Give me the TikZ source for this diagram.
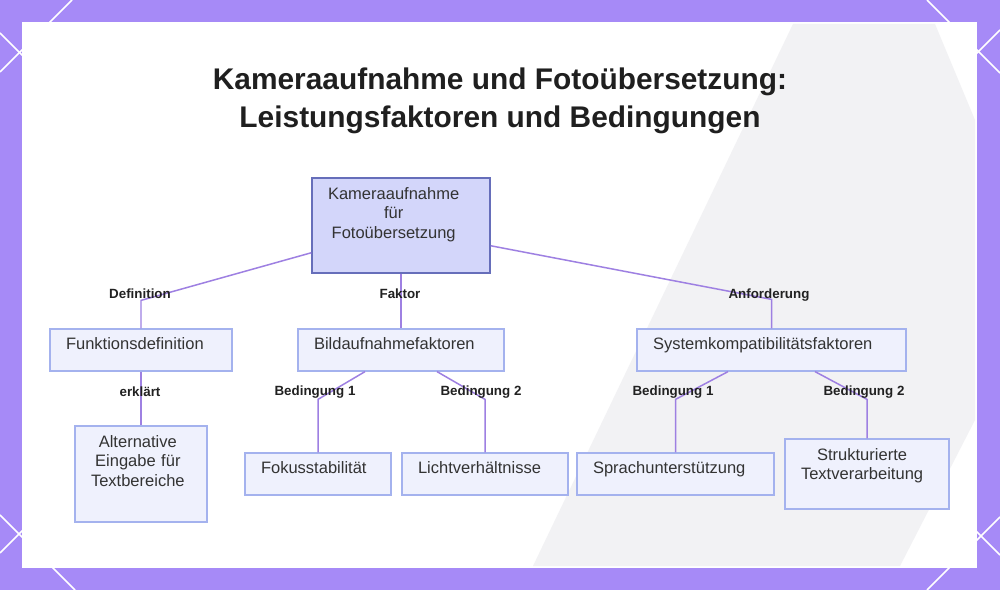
\documentclass[tikz,border=0pt]{standalone}
\usepackage{fontspec}
\setmainfont{Liberation Sans}
\usepackage{tikz}
\usetikzlibrary{calc, positioning}

\definecolor{bgpurple}{RGB}{166,138,247}
\definecolor{linkpurple}{RGB}{158,128,226}
\definecolor{rootfill}{RGB}{211,214,250}
\definecolor{rootline}{RGB}{102,110,186}
\definecolor{boxfill}{RGB}{239,241,253}
\definecolor{boxline}{RGB}{164,178,238}
\definecolor{textgray}{RGB}{51,51,51}
\definecolor{phonegray}{RGB}{242,242,244}

\begin{document}
\begin{tikzpicture}[
    x=0.02cm, y=-0.02cm,
    boxnode/.style={rectangle, draw=boxline, fill=boxfill, line width=0.7pt,
        inner xsep=0.32cm, inner ysep=0pt, text height=0.42cm, text depth=0.42cm,
        align=left, text=textgray, font=\fontsize{9.4}{11.3}\selectfont},
    rootnode/.style={boxnode, draw=rootline, fill=rootfill, line width=0.9pt},
    lbl/.style={font=\fontsize{7.6}{9}\selectfont\bfseries, text=black!87, inner sep=1pt,
        text height=1.55ex, text depth=0.45ex},
    link/.style={draw=linkpurple, line width=0.85pt},
    deco/.style={draw=white, line width=0.9pt}
]

    % Background -------------------------------------------------

    \useasboundingbox (0,0) rectangle (1000,590);
    \fill[bgpurple] (0,0) rectangle (1000,590);
    \draw[deco] (72,0) -- (0,72);
    \draw[deco] (0,33) -- (60,93);
    \draw[deco] (0,515) -- (75,590);
    \draw[deco] (0,553) -- (40,513);
    \draw[deco] (927,0) -- (1000,73);
    \draw[deco] (1000,30) -- (960,70);
    \draw[deco] (927,590) -- (1000,517);
    \draw[deco] (1000,555) -- (960,515);
    \fill[white] (22,22) rectangle (977,568);
    \fill[phonegray] (793,24) -- (935,24) -- (975,120) -- (975,420) -- (900,566)
        -- (533,566) -- cycle;

    % Nodes ------------------------------------------------------

    \node[font=\fontsize{17}{21.5}\selectfont\bfseries, text=black!88, align=center] (title) at (500,101)
        {Kameraaufnahme und Fotoübersetzung:\\Leistungsfaktoren und Bedingungen};

    \node[rootnode, text width=2.92cm, text depth=1.48cm] (root) at (401,225.5)
        {\begin{tabular}[t]{@{}c@{}}Kameraaufnahme\\für\\Fotoübersetzung\end{tabular}};

    \node[boxnode, text width=3.00cm] (func) at (141,350) {Funktionsdefinition};
    \node[boxnode, text width=3.48cm] (bild) at (401,350) {Bildaufnahmefaktoren};
    \node[boxnode, text width=4.74cm] (sys) at (771.5,350) {Systemkompatibilitätsfaktoren};

    \node[boxnode, text width=2.00cm, text depth=1.50cm] (alt) at (141,474)
        {\begin{tabular}[t]{@{}c@{}}Alternative\\Eingabe für\\Textbereiche\end{tabular}};
    \node[boxnode, text width=2.28cm] (fokus) at (318,474) {Fokusstabilität};
    \node[boxnode, text width=2.68cm] (licht) at (485,474) {Lichtverhältnisse};
    \node[boxnode, text width=3.30cm] (sprach) at (675.5,474) {Sprachunterstützung};
    \node[boxnode, text width=2.64cm, text depth=0.98cm] (struktur) at (867,474)
        {\begin{tabular}[t]{@{}c@{}}Strukturierte\\Textverarbeitung\end{tabular}};

    % Links ------------------------------------------------------

    % From the root
    \draw[link] ($(root.south west)+(0,-21)$) -- ($(func.north)+(0,-28)$) -- (func.north);
    \draw[link] (root.south) -- (bild.north);
    \draw[link] ($(root.south east)+(0,-28)$) -- ($(sys.north)+(0,-29)$) -- (sys.north);

    % Second level
    \draw[link] (func.south) -- (alt.north);
    \draw[link] ($(bild.south)+(-36,0)$) -- ($(fokus.north)+(0,-53)$) -- (fokus.north);
    \draw[link] ($(bild.south)+(36,0)$) -- ($(licht.north)+(0,-53)$) -- (licht.north);
    \draw[link] ($(sys.south)+(-43.5,0)$) -- ($(sprach.north)+(0,-53)$) -- (sprach.north);
    \draw[link] ($(sys.south)+(43.5,0)$) -- ($(struktur.north)+(0,-39)$) -- (struktur.north);

    % Link labels
    \node[lbl] (ldef) at ($(func.north)+(-1,-35)$) {Definition};
    \node[lbl] (lfak) at ($(bild.north)+(-1,-35)$) {Faktor};
    \node[lbl] (lanf) at ($(sys.north)+(-2.5,-35)$) {Anforderung};
    \node[lbl] (lerk) at ($(func.south)+(-1,20)$) {erklärt};
    \node[lbl] (lbb1) at ($(fokus.north)+(-3,-62)$) {Bedingung 1};
    \node[lbl] (lbb2) at ($(licht.north)+(-4,-62)$) {Bedingung 2};
    \node[lbl] (lsb1) at ($(sprach.north)+(-2.5,-62)$) {Bedingung 1};
    \node[lbl] (lsb2) at ($(struktur.north)+(-3,-48)$) {Bedingung 2};

\end{tikzpicture}
\end{document}
